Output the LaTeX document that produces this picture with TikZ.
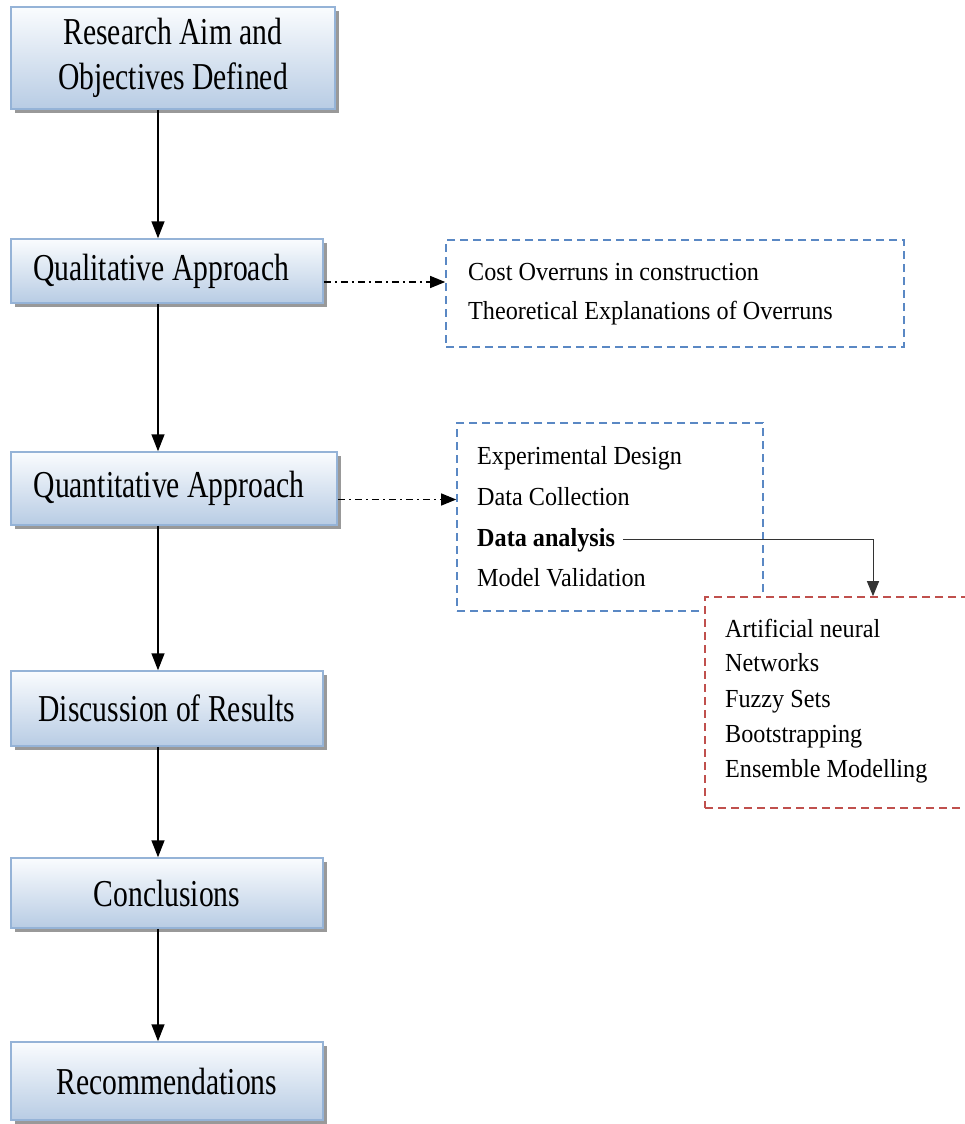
\documentclass[tikz,border=0pt]{standalone}
\usepackage{fontspec}
\setmainfont{Liberation Serif}
\newfontfamily\stagefont[FakeStretch=0.78]{Liberation Serif}
\newfontfamily\notefont[FakeStretch=0.93]{Liberation Serif}
\usetikzlibrary{calc}
\usetikzlibrary{arrows.meta,shadows}
\definecolor{stageedge}{HTML}{95B3D7}
\definecolor{stagetop}{HTML}{FAFCFE}
\definecolor{stagebot}{HTML}{B8CCE4}
\definecolor{noteblue}{HTML}{5A88C4}
\definecolor{notered}{HTML}{C0504D}
\tikzset{
  stage/.style = {rectangle,draw=stageedge,line width=1.5pt,
    top color=stagetop,bottom color=stagebot,
    drop shadow={shadow xshift=4pt,shadow yshift=-4pt,fill=black!40,opacity=1},
    font=\stagefont\fontsize{38}{45}\selectfont,align=center,inner sep=0pt},
  notebox/.style = {rectangle,draw=noteblue,line width=1.6pt,
    dash pattern=on 8pt off 5pt,inner sep=0pt},
  techbox/.style = {notebox,draw=notered,fill=white},
  item/.style = {anchor=base west,inner sep=2pt,
    font=\notefont\fontsize{26}{30}\selectfont},
  flow/.style = {-{Triangle[length=17pt,width=13pt]},line width=1.5pt},
  link/.style = {-{Triangle[length=15pt,width=12pt]},line width=1.2pt,
    dash pattern=on 7pt off 4pt on 2pt off 4pt},
  tapline/.style = {-{Triangle[length=15pt,width=12pt]},line width=1pt,black!80}
}

\begin{document}
\begin{tikzpicture}[x=1pt,y=-1pt]
  \useasboundingbox (0,0) rectangle (965,1124);

  % main stages
  \node[stage,minimum width=324pt,minimum height=102pt] (aim) at (173,58)
       {Research Aim and\\Objectives Defined};
  \node[stage,minimum width=312pt,minimum height=64pt] (qual) at (167,271)
       {\raisebox{-4pt}{Qualitative Approach}\hspace*{12pt}};
  \node[stage,minimum width=326pt,minimum height=73pt] (quant) at (174,488.5)
       {\raisebox{-2pt}{Quantitative Approach}\hspace*{10pt}};
  \node[stage,minimum width=312pt,minimum height=75pt] (disc) at (167,708.5)
       {Discussion of Results};
  \node[stage,minimum width=312pt,minimum height=70pt] (concl) at (167,893)
       {Conclusions};
  \node[stage,minimum width=312pt,minimum height=78pt] (recom) at (167,1081)
       {Recommendations};

  % side boxes
  \node[notebox,minimum width=458pt,minimum height=107pt] (lit) at (675,293.5) {};
  \node[item] (cost) at (466,280) {Cost Overruns in construction};
  \node[item] (theory) at (466,319) {Theoretical Explanations of Overruns};

  \node[notebox,minimum width=306pt,minimum height=188pt] (method) at (610,517) {};
  \node[item] (design) at (475,464) {Experimental Design};
  \node[item] (collect) at (475,505) {Data Collection};
  \node[item,font=\notefont\bfseries\fontsize{26}{30}\selectfont] (da) at (475,546)
       {Data analysis};
  \node[item] (valid) at (475,586) {Model Validation};

  \node[techbox,minimum width=280pt,minimum height=211pt] (tech) at (845,702.5) {};
  \node[item] (ann) at (723,637) {Artificial neural};
  \node[item] (net) at (723,671) {Networks};
  \node[item] (fuzzy) at (723,707) {Fuzzy Sets};
  \node[item] (boot) at (723,742) {Bootstrapping};
  \node[item] (ens) at (723,777) {Ensemble Modelling};

  % connectors
  \coordinate (spine) at (158,0);
  \draw[flow] (aim.south -| spine) -- (qual.north -| spine);
  \draw[flow] (qual.south -| spine) -- (quant.north -| spine);
  \draw[flow] (quant.south -| spine) -- (disc.north -| spine);
  \draw[flow] (disc.south -| spine) -- (concl.north -| spine);
  \draw[flow] (concl.south -| spine) -- (recom.north -| spine);

  \draw[link] ([yshift=-11pt]qual.east) -- ([yshift=-11pt]qual.east -| lit.west);
  \draw[link] ([yshift=-11pt]quant.east) -- ([yshift=-11pt]quant.east -| method.west);

  \coordinate (tap) at (873,0);
  \draw[tapline] ([xshift=6pt]da.east) -| (tap |- tech.north);
\end{tikzpicture}
\end{document}
